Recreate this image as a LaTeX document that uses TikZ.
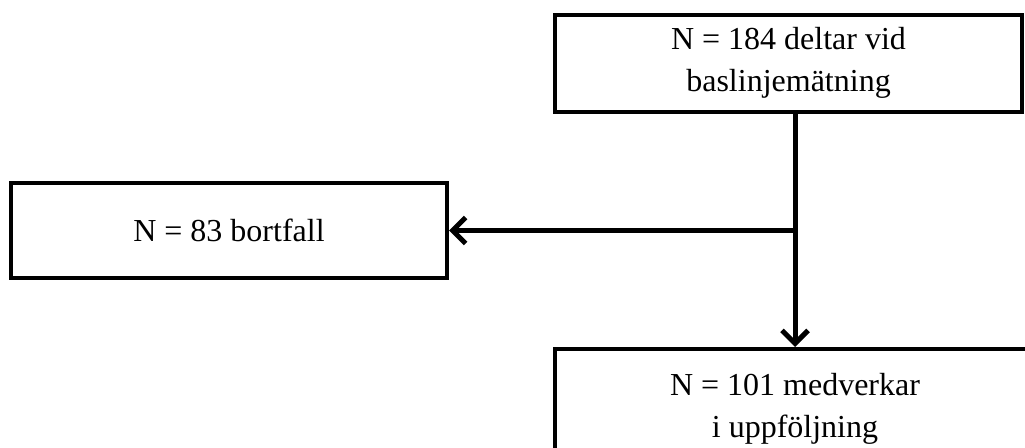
\documentclass[tikz,border=0pt]{standalone}
\usepackage{fontspec}
\setmainfont{Liberation Serif}
\usetikzlibrary{arrows.meta}
\begin{document}
\begin{tikzpicture}[x=1pt,y=-1pt,
  box/.style={draw=black, line width=4pt, fill=white, align=center, inner sep=0pt,
    font=\fontsize{32}{42}\selectfont},
  conn/.style={line width=5pt, -{Straight Barb[length=13pt,width=26pt,line width=5pt]}}]
\useasboundingbox (0,0) rectangle (1025,447);
\clip (0,0) rectangle (1025,447);
\fill[white] (0,0) rectangle (1025,447);
\node[box, minimum width=467pt, minimum height=97pt] (top) at (788.5,63) {N = 184 deltar vid\\baslinjemätning};
\node[box, minimum width=436pt, minimum height=95pt] (left) at (229,230.5) {N = 83 bortfall};
\node[box, minimum width=480pt, minimum height=120pt] (bot) at (795,409) {N = 101 medverkar\\i uppföljning};
\coordinate (j) at (bot.north |- left.east);
\draw[conn] (top.south -| bot.north) -- (bot.north);
\draw[conn] (j) -- (left.east);
\end{tikzpicture}
\end{document}
